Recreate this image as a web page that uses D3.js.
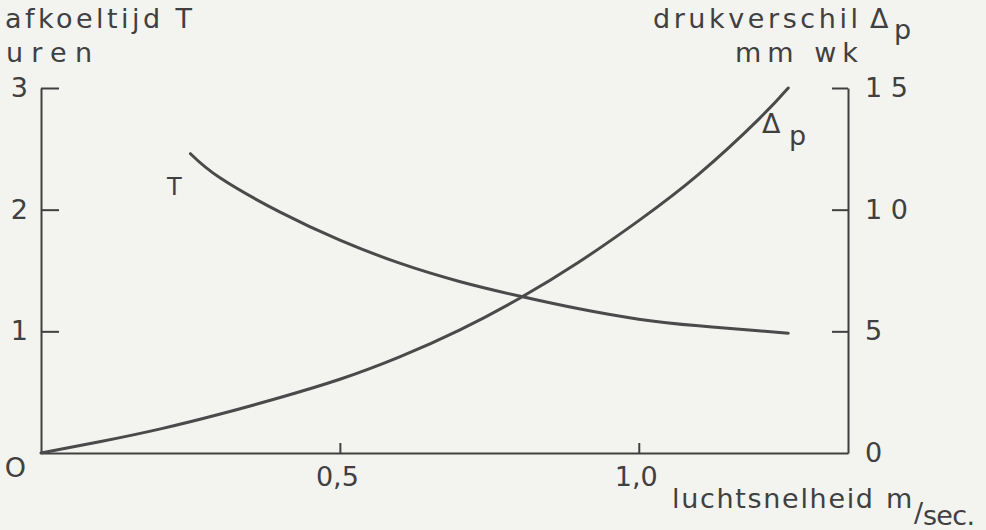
<!DOCTYPE html>
<html><head><meta charset="utf-8">
<script src="https://cdn.jsdelivr.net/npm/d3@7"></script>
<style>
html,body{margin:0;padding:0;background:#f3f3f0;}
svg{display:block;}
</style></head>
<body>
<svg id="chart" width="986" height="530"></svg>
<script>
// ---- data ----
const speedDp = [0, 0.1, 0.2, 0.3, 0.4, 0.5, 0.6, 0.7, 0.8, 0.9, 1.0, 1.1, 1.2, 1.25];
const pressureDp = [0, 0.47, 0.99, 1.6, 2.28, 3.03, 3.95, 5.05, 6.35, 7.85, 9.55, 11.45, 13.7, 15.0];
const speedT = [0.25, 0.3, 0.4, 0.5, 0.6, 0.7, 0.8, 0.9, 1.0, 1.1, 1.2, 1.25];
const coolTime = [2.46, 2.26, 1.98, 1.75, 1.56, 1.41, 1.29, 1.185, 1.10, 1.045, 1.005, 0.985];
const leftTicks = [0, 1, 2, 3];
const leftTickLabels = ["O", "1", "2", "3"];
const rightTicks = [0, 5, 10, 15];
const rightTickLabels = ["0", "5", "1 0", "1 5"];
const xTicks = [0.5, 1.0];
const xTickLabels = ["0,5", "1,0"];

const ink = "#404040";
const font = "'DejaVu Sans', sans-serif";
const fs = 27;
const svg = d3.select("#chart");

const x = d3.scaleLinear().domain([0, 1.35]).range([41, 848]);
const yL = d3.scaleLinear().domain([0, 3]).range([453, 88]);
const yR = d3.scaleLinear().domain([0, 15]).range([453, 88]);

function styleAxis(g) {
  g.selectAll("path.domain").attr("stroke", ink).attr("stroke-width", 2);
  g.selectAll(".tick line").attr("stroke", ink).attr("stroke-width", 2);
  g.selectAll("text").attr("fill", ink).attr("font-family", font).attr("font-size", fs);
}

// left axis
const gL = svg.append("g").attr("transform", "translate(41,0)")
  .call(d3.axisLeft(yL).tickValues(leftTicks)
    .tickFormat((d, i) => leftTickLabels[i])
    .tickSizeInner(-18).tickSizeOuter(0).tickPadding(13));
styleAxis(gL);
gL.selectAll(".tick").filter(d => d === 0).select("text").attr("dy", "0.86em").attr("x", -15);
gL.selectAll(".tick").filter(d => d === 0).select("line").remove();

// right axis
const gR = svg.append("g").attr("transform", "translate(848,0)")
  .call(d3.axisRight(yR).tickValues(rightTicks)
    .tickFormat((d, i) => rightTickLabels[i])
    .tickSizeInner(-16).tickSizeOuter(0).tickPadding(17));
styleAxis(gR);
gR.selectAll(".tick").filter(d => d === 0).select("line").remove();
gR.selectAll("text").style("white-space", "pre");

// bottom axis
const gX = svg.append("g").attr("transform", "translate(0,453)")
  .call(d3.axisBottom(x).tickValues(xTicks)
    .tickFormat((d, i) => xTickLabels[i])
    .tickSizeInner(-10).tickSizeOuter(0).tickPadding(14));
styleAxis(gX);
gX.selectAll(".tick text").attr("dx", "-3");

// curves
const lineDp = d3.line().x((d, i) => x(speedDp[i])).y(d => yR(d)).curve(d3.curveNatural);
const lineT = d3.line().x((d, i) => x(speedT[i])).y(d => yL(d)).curve(d3.curveNatural);
svg.append("path").attr("d", lineDp(pressureDp)).attr("fill", "none")
  .attr("stroke", "#4a4a4a").attr("stroke-width", 3).attr("stroke-linecap", "round");
svg.append("path").attr("d", lineT(coolTime)).attr("fill", "none")
  .attr("stroke", "#4a4a4a").attr("stroke-width", 3).attr("stroke-linecap", "round");

// texts
function txt(s, xx, yy, opts = {}) {
  const t = svg.append("text").attr("x", xx).attr("y", yy)
    .attr("fill", ink).attr("font-family", font).attr("font-size", opts.size || fs)
    .style("white-space", "pre")
    .text(s);
  if (opts.len) t.attr("textLength", opts.len).attr("lengthAdjust", "spacing");
  if (opts.anchor) t.attr("text-anchor", opts.anchor);
  return t;
}
txt("afkoeltijd T", 5, 28, {len: 187});
txt("uren", 6, 62, {len: 86});
txt("drukverschil", 653, 28, {len: 205});
txt("Δ", 870, 28);
txt("p", 894, 39);
txt("mm wk", 735, 62, {len: 123});
txt("Δ", 762, 133);
txt("p", 789, 145);
txt("T", 167, 195, {size: 24});
txt("luchtsnelheid", 672, 508, {len: 201});
txt("m", 886, 508);
txt("/", 914, 522, {size: 27});
txt("sec.", 923, 525, {len: 52});
</script>
</body></html>
